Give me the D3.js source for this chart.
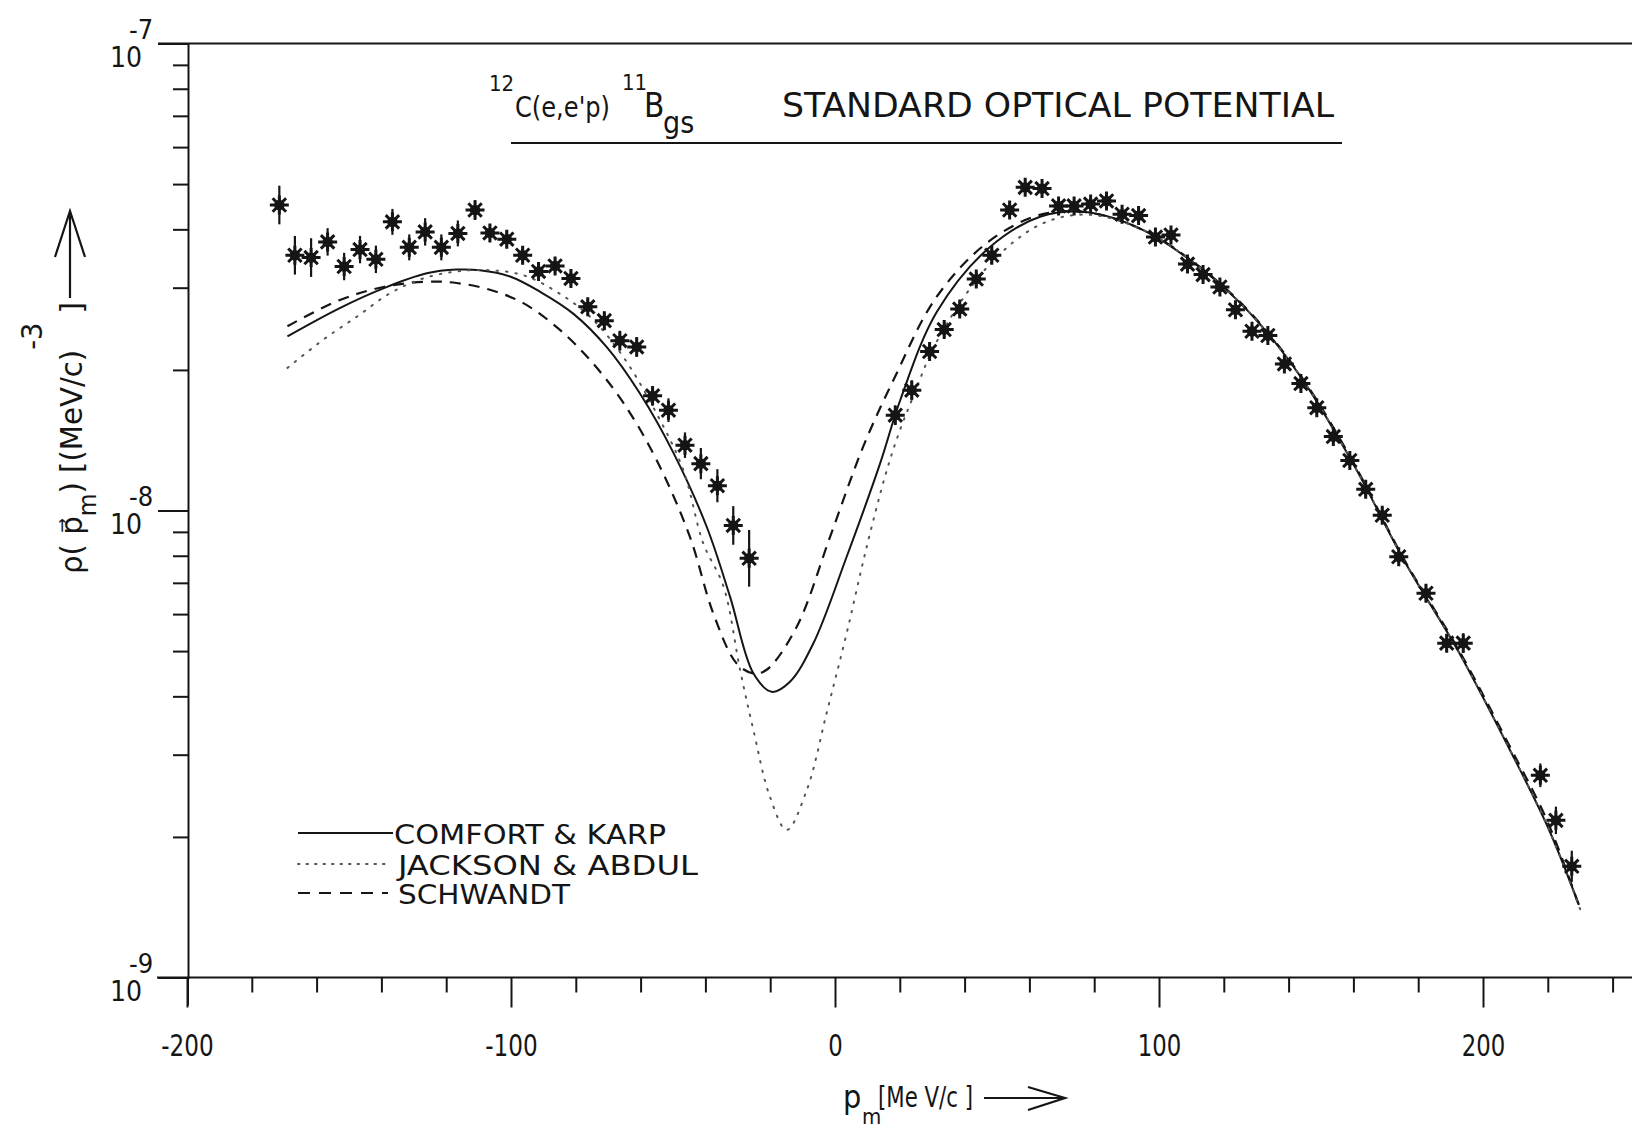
<!DOCTYPE html>
<html lang="en">
<head>
<meta charset="utf-8">
<title>12C(e,e'p)11B standard optical potential</title>
<script src="https://d3js.org/d3.v7.min.js"></script>
<style>
  body { margin: 0; background: #fff; }
  svg text { font-family: "Liberation Sans Narrow", "DejaVu Sans Condensed", "Liberation Sans", sans-serif; fill: #151515; }
</style>
</head>
<body>
<div id="chart"></div>
<script>
// ---- measured points (missing momentum in MeV/c, rho in (MeV/c)^-3, relative error)
var dataP = [-171.5, -166.7, -161.7, -156.6, -151.5, -146.6, -141.7, -136.6, -131.4, -126.5,
             -121.5, -116.4, -111.1, -106.5, -101.3, -96.4, -91.5, -86.4, -81.5, -76.3,
             -71.2, -66.4, -61.2, -56.3, -51.4, -46.3, -41.4, -36.3, -31.4, -26.5,
             18.6, 23.7, 29.2, 33.7, 38.5, 43.6, 48.4, 53.9, 58.7, 63.9,
             69.0, 73.8, 78.9, 83.8, 88.6, 93.7, 98.9, 103.7, 108.8, 113.6,
             118.8, 123.6, 128.7, 133.6, 138.7, 143.8, 148.7, 153.8, 158.9, 163.8,
             168.9, 174.0, 182.4, 188.8, 193.9, 217.7, 222.5, 227.4];
var dataRho = [4.51e-8, 3.52e-8, 3.48e-8, 3.76e-8, 3.33e-8, 3.62e-8, 3.45e-8, 4.15e-8, 3.66e-8, 3.95e-8,
               3.66e-8, 3.92e-8, 4.40e-8, 3.93e-8, 3.81e-8, 3.52e-8, 3.25e-8, 3.34e-8, 3.14e-8, 2.73e-8,
               2.55e-8, 2.31e-8, 2.24e-8, 1.76e-8, 1.64e-8, 1.38e-8, 1.26e-8, 1.13e-8, 9.29e-9, 7.90e-9,
               1.60e-8, 1.81e-8, 2.19e-8, 2.44e-8, 2.70e-8, 3.13e-8, 3.52e-8, 4.40e-8, 4.92e-8, 4.89e-8,
               4.49e-8, 4.49e-8, 4.53e-8, 4.60e-8, 4.31e-8, 4.28e-8, 3.85e-8, 3.89e-8, 3.37e-8, 3.20e-8,
               3.01e-8, 2.69e-8, 2.42e-8, 2.37e-8, 2.06e-8, 1.87e-8, 1.66e-8, 1.44e-8, 1.28e-8, 1.11e-8,
               9.77e-9, 7.96e-9, 6.65e-9, 5.20e-9, 5.20e-9, 2.71e-9, 2.17e-9, 1.73e-9];
var dataErr = [0.10, 0.10, 0.10, 0.07, 0.07, 0.07, 0.07, 0.066, 0.066, 0.07,
               0.066, 0.066, 0.05, 0.045, 0.045, 0.045, 0.04, 0.04, 0.04, 0.045,
               0.045, 0.05, 0.05, 0.05, 0.06, 0.065, 0.08, 0.085, 0.10, 0.15,
               0.05, 0.05, 0.04, 0.04, 0.04, 0.035, 0.035, 0.035, 0.03, 0.03,
               0.03, 0.03, 0.03, 0.03, 0.03, 0.03, 0.03, 0.03, 0.03, 0.03,
               0.03, 0.03, 0.03, 0.03, 0.035, 0.035, 0.035, 0.035, 0.04, 0.04,
               0.04, 0.04, 0.045, 0.045, 0.05, 0.06, 0.07, 0.08];

// ---- theory curves
var ckP = [-169, -153, -139.4, -126, -116.8, -109.6, -100.3, -91, -80.8, -70.5, -60.2, -49.9, -39.6,
           -32.4, -25.2, -19.5, -13.9, -6.7, 3.6, 13.9, 20.1, 31.4, 47.5, 63.5, 78, 95.6, 111.7,
           127.8, 143.8, 159.9, 175.9, 192, 208, 220, 229.6];
var ckRho = [2.36e-8, 2.71e-8, 2.99e-8, 3.22e-8, 3.28e-8, 3.27e-8, 3.17e-8, 2.94e-8, 2.64e-8, 2.24e-8, 1.78e-8, 1.33e-8, 9.23e-9,
             6.54e-9, 4.48e-9, 4.09e-9, 4.30e-9, 5.19e-9, 7.96e-9, 1.26e-8, 1.72e-8, 2.66e-8, 3.65e-8, 4.26e-8, 4.35e-8, 3.97e-8, 3.35e-8,
             2.66e-8, 1.93e-8, 1.26e-8, 7.76e-9, 5.05e-9, 3.10e-9, 2.10e-9, 1.43e-9];

var jaP = [-169, -158, -147.6, -137.3, -127.1, -116.8, -106.5, -96.2, -85.9, -75.6, -65.3, -55, -46.8,
           -40.7, -34.4, -29.3, -25.2, -20.1, -14.9, -8.7, -2.6, 3.6, 9.8, 16, 20.1, 24.1, 31.4,
           47.5, 63.5, 78, 95.6, 111.7, 127.8, 143.8, 159.9, 175.9, 192, 208, 220, 230];
var jaRho = [2.02e-8, 2.32e-8, 2.60e-8, 2.92e-8, 3.14e-8, 3.25e-8, 3.27e-8, 3.19e-8, 2.94e-8, 2.60e-8, 2.13e-8, 1.61e-8, 1.22e-8,
             8.52e-9, 6.87e-9, 4.56e-9, 3.39e-9, 2.44e-9, 2.07e-9, 2.52e-9, 3.68e-9, 5.46e-9, 8.37e-9, 1.22e-8, 1.49e-8, 1.75e-8, 2.30e-8,
             3.35e-8, 4.10e-8, 4.30e-8, 3.97e-8, 3.35e-8, 2.66e-8, 1.93e-8, 1.26e-8, 7.76e-9, 5.05e-9, 3.10e-9, 2.10e-9, 1.40e-9];

var swP = [-169, -153, -139.4, -126, -116.8, -106.5, -96.2, -85.9, -75.6, -65.3, -55, -44.8, -37.6,
           -30.4, -25.2, -21.1, -11.8, -1.5, 8.7, 18, 31.4, 47.5, 63.5, 78, 95.6, 111.7, 127.8,
           143.8, 159.9, 175.9, 192, 208, 220, 230];
var swRho = [2.48e-8, 2.82e-8, 3.01e-8, 3.09e-8, 3.07e-8, 2.97e-8, 2.78e-8, 2.47e-8, 2.10e-8, 1.70e-8, 1.28e-8, 8.79e-9, 6.03e-9,
             4.71e-9, 4.48e-9, 4.56e-9, 5.64e-9, 8.79e-9, 1.37e-8, 1.90e-8, 2.87e-8, 3.77e-8, 4.30e-8, 4.35e-8, 3.97e-8, 3.36e-8, 2.67e-8,
             1.94e-8, 1.27e-8, 7.80e-9, 5.10e-9, 3.15e-9, 2.15e-9, 1.40e-9];

// axis ticks and labels
var xMajor = [-200, -100, 0, 100, 200];
var xMinor = [-180, -160, -140, -120, -80, -60, -40, -20, 20, 40, 60, 80, 120, 140, 160, 180, 220, 240];
var yMajor = [1e-9, 1e-8, 1e-7];
var yExp = ["-9", "-8", "-7"];
var legendNames = ["COMFORT & KARP", "JACKSON & ABDUL", "SCHWANDT"];

var width = 1632, height = 1129;
var ink = "#151515";

var svg = d3.select("#chart").append("svg")
    .attr("width", width)
    .attr("height", height);

var x = d3.scaleLinear().domain([-200, 200]).range([187, 1483]);
var y = d3.scaleLog().domain([1e-9, 1e-7]).range([977.5, 43.5]);

// frame lines (top + bottom run off the right edge)
svg.append("line").attr("x1", 158).attr("x2", width).attr("y1", y(1e-7)).attr("y2", y(1e-7))
    .attr("stroke", ink).attr("stroke-width", 2);
svg.append("line").attr("x1", 157).attr("x2", width).attr("y1", y(1e-9)).attr("y2", y(1e-9))
    .attr("stroke", ink).attr("stroke-width", 2);

// x axis ticks
var xAxisMinor = d3.axisBottom(x).tickValues(xMinor).tickSize(15).tickFormat("");
var xAxisMajor = d3.axisBottom(x).tickValues(xMajor).tickSize(30).tickPadding(24)
    .tickFormat(function(d) { return d < 0 ? "-" + Math.abs(d) : d; });

var gx1 = svg.append("g").attr("transform", "translate(0," + y(1e-9) + ")").call(xAxisMinor);
var gx2 = svg.append("g").attr("transform", "translate(0," + y(1e-9) + ")").call(xAxisMajor);
[gx1, gx2].forEach(function(g) {
    g.select(".domain").remove();
    g.selectAll("line").attr("stroke", ink).attr("stroke-width", 2);
});
gx2.selectAll("text").attr("font-size", 31).attr("fill", ink).attr("dy", "0.78em")
    .attr("textLength", function(d) {
        return String(Math.abs(d)).length * 14.5 + (d < 0 ? 9 : 0);
    })
    .attr("lengthAdjust", "spacingAndGlyphs");

// y axis
var yMinor = [];
[1e-9, 1e-8].forEach(function(dec) {
    for (var k = 2; k <= 9; k++) yMinor.push(k * dec);
});
var gy1 = svg.append("g").attr("transform", "translate(188,0)")
    .call(d3.axisLeft(y).tickValues(yMinor).tickSize(15).tickFormat(""));
var gy2 = svg.append("g").attr("transform", "translate(188,0)")
    .call(d3.axisLeft(y).tickValues(yMajor).tickSize(30).tickFormat(""));
gy1.select(".domain").attr("stroke", ink).attr("stroke-width", 2);
gy2.select(".domain").remove();
[gy1, gy2].forEach(function(g) {
    g.selectAll("line").attr("stroke", ink).attr("stroke-width", 2);
});
// y axis continues below the bottom line as the -200 tick
svg.append("line").attr("x1", 188).attr("x2", 188).attr("y1", y(1e-9)).attr("y2", y(1e-9) + 28)
    .attr("stroke", ink).attr("stroke-width", 2);

// y tick labels 10^n
var yl = svg.append("g").selectAll("g").data(yMajor).enter().append("g");
yl.append("text").attr("x", 142).attr("y", function(d) { return y(d) + 23; })
    .attr("text-anchor", "end").attr("font-size", 28).text("10");
yl.append("text").attr("x", 129).attr("y", function(d) { return y(d) - 5; })
    .attr("font-size", 27).text(function(d, i) { return yExp[i]; });

// curves
var line = d3.line()
    .x(function(d) { return x(d[0]); })
    .y(function(d) { return y(d[1]); })
    .curve(d3.curveCatmullRom.alpha(0.5));

function pairs(px, py) { return px.map(function(p, i) { return [p, py[i]]; }); }

svg.append("path").attr("d", line(pairs(ckP, ckRho)))
    .attr("fill", "none").attr("stroke", ink).attr("stroke-width", 2);
svg.append("path").attr("d", line(pairs(swP, swRho)))
    .attr("fill", "none").attr("stroke", ink).attr("stroke-width", 2.2)
    .attr("stroke-dasharray", "11,8");
svg.append("path").attr("d", line(pairs(jaP, jaRho)))
    .attr("fill", "none").attr("stroke", "#555").attr("stroke-width", 2)
    .attr("stroke-dasharray", "1.5,8").attr("stroke-linecap", "round");

// data points with error bars
var pts = svg.append("g").selectAll("g")
    .data(dataP.map(function(p, i) { return { p: p, r: dataRho[i], e: dataErr[i] }; }))
    .enter().append("g")
    .attr("transform", function(d) { return "translate(" + x(d.p) + "," + y(d.r) + ")"; });
pts.append("line")
    .attr("y1", function(d) { return y(d.r * (1 + d.e)) - y(d.r); })
    .attr("y2", function(d) { return y(d.r / (1 + d.e)) - y(d.r); })
    .attr("stroke", ink).attr("stroke-width", 2.2);
var star = "";
for (var a = 0; a < 4; a++) {
    var ang = a * Math.PI / 4, r = 9.5;
    star += "M" + (-r * Math.sin(ang)).toFixed(2) + "," + (-r * Math.cos(ang)).toFixed(2) +
            "L" + (r * Math.sin(ang)).toFixed(2) + "," + (r * Math.cos(ang)).toFixed(2);
}
pts.append("path").attr("d", star).attr("stroke", ink).attr("stroke-width", 3);
pts.append("circle").attr("r", 5.2).attr("fill", ink);

// title
var title = svg.append("g");
title.append("text").attr("x", 489).attr("y", 91).attr("font-size", 22).text("12");
title.append("text").attr("x", 515).attr("y", 117).attr("font-size", 29)
    .attr("textLength", 95).attr("lengthAdjust", "spacingAndGlyphs").text("C(e,e'p)");
title.append("text").attr("x", 622).attr("y", 90).attr("font-size", 22).text("11");
title.append("text").attr("x", 644).attr("y", 117).attr("font-size", 33).text("B");
title.append("text").attr("x", 663).attr("y", 133).attr("font-size", 30).text("gs");
title.append("text").attr("x", 782).attr("y", 117).attr("font-size", 33)
    .attr("textLength", 552).attr("lengthAdjust", "spacingAndGlyphs")
    .text("STANDARD  OPTICAL  POTENTIAL");
title.append("line").attr("x1", 511).attr("x2", 1342).attr("y1", 143).attr("y2", 143)
    .attr("stroke", ink).attr("stroke-width", 2);

// legend
var legY = [833, 864, 893];
var legDash = [null, "1.5,7", "12,9"];
var leg = svg.append("g").selectAll("g").data(legendNames).enter().append("g");
leg.append("line")
    .attr("x1", 298).attr("x2", function(d, i) { return i === 0 ? 393 : 388; })
    .attr("y1", function(d, i) { return legY[i]; }).attr("y2", function(d, i) { return legY[i]; })
    .attr("stroke", function(d, i) { return i === 1 ? "#555" : ink; })
    .attr("stroke-width", 2)
    .attr("stroke-linecap", function(d, i) { return i === 1 ? "round" : "butt"; })
    .attr("stroke-dasharray", function(d, i) { return legDash[i]; });
var legW = [272, 300, 172];
leg.append("text")
    .attr("x", function(d, i) { return i === 0 ? 394 : 398; })
    .attr("y", function(d, i) { return legY[i] + 11; })
    .attr("font-size", 26)
    .attr("textLength", function(d, i) { return legW[i]; })
    .attr("lengthAdjust", "spacingAndGlyphs")
    .text(function(d) { return d; });

// x axis title
var xt = svg.append("g");
xt.append("text").attr("x", 843).attr("y", 1108).attr("font-size", 32).text("p");
xt.append("text").attr("x", 862).attr("y", 1124).attr("font-size", 22).text("m");
xt.append("text").attr("x", 878).attr("y", 1107).attr("font-size", 29)
    .attr("textLength", 95).attr("lengthAdjust", "spacingAndGlyphs").text("[Me V/c ]");
xt.append("path").attr("d", "M984,1098H1063M1028,1087L1065,1098L1028,1110")
    .attr("fill", "none").attr("stroke", ink).attr("stroke-width", 2.2);

// y axis title (rotated)
var yt = svg.append("g").attr("transform", "translate(82,574) rotate(-90)");
var ytx = yt.append("text").attr("font-size", 30)
    .attr("textLength", 272).attr("lengthAdjust", "spacingAndGlyphs");
ytx.append("tspan").text("\u03c1( p\u20d7");
ytx.append("tspan").attr("dy", 14).attr("font-size", 24).text("m");
ytx.append("tspan").attr("dy", -14).text(") [(MeV/c)");
ytx.append("tspan").attr("dy", -40).attr("font-size", 28).text("-3");
ytx.append("tspan").attr("dy", 40).text(" ]");
svg.append("path").attr("d", "M70,298V211M55,257L70,211L85,257")
    .attr("fill", "none").attr("stroke", ink).attr("stroke-width", 2.2);
</script>
</body>
</html>
